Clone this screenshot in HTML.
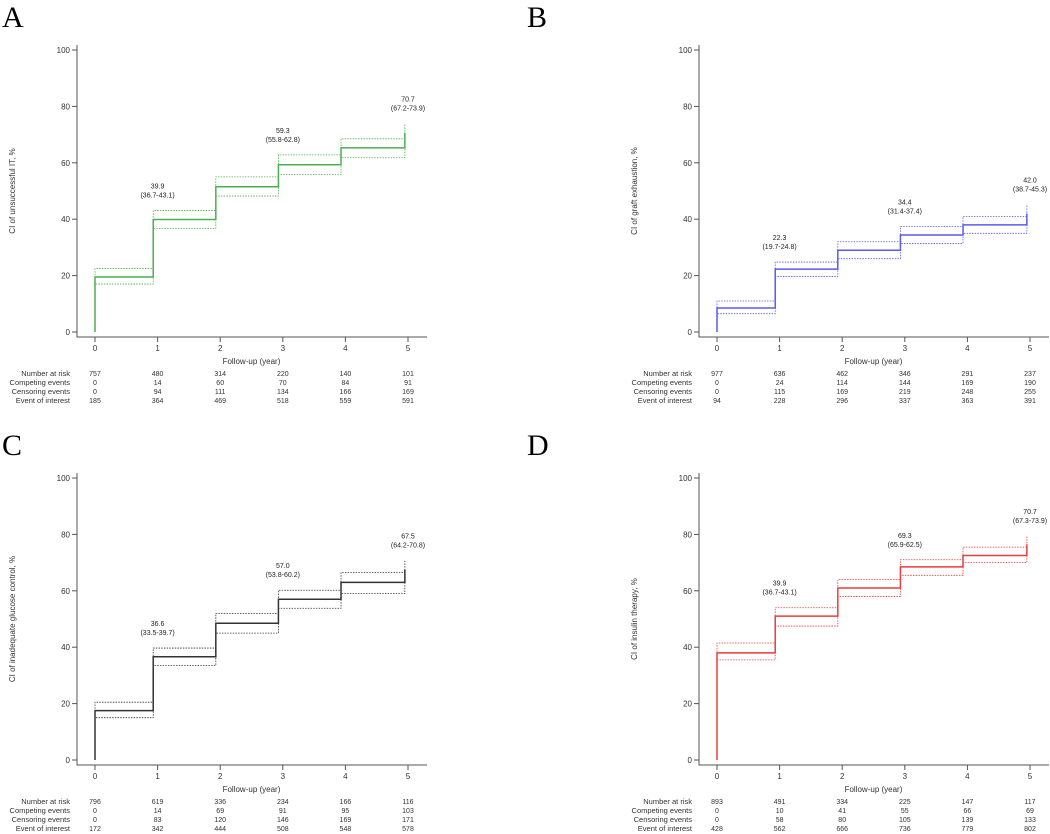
<!DOCTYPE html>
<html><head><meta charset="utf-8"><style>
body{margin:0;background:#fff;}
svg{display:block;font-family:"Liberation Sans",Arial,sans-serif;}
</style></head><body>
<svg id="fig" width="1050" height="834" viewBox="0 0 1050 834" xmlns="http://www.w3.org/2000/svg"></svg>
<script>
const years=[0,1,2,3,4,5];
const stepTimes=[0,0.93,1.93,2.93,3.93,4.95];
const tickY=[0,20,40,60,80,100];
const rowLabels=["Number at risk","Competing events","Censoring events","Event of interest"];

const A_est=[19.5,39.9,51.5,59.3,65.3,70.7];
const A_lo=[17,36.7,48.2,55.8,61.8,67.2];
const A_hi=[22.5,43.1,55,62.8,68.5,73.9];
const A_ann=[[1,"39.9","(36.7-43.1)"],[3,"59.3","(55.8-62.8)"],[5,"70.7","(67.2-73.9)"]];
const A_tab=[[757,480,314,220,140,101],[0,14,60,70,84,91],[0,94,111,134,166,169],[185,364,469,518,559,591]];

const B_est=[8.5,22.3,29,34.4,38,42.0];
const B_lo=[6.5,19.7,26,31.4,35,38.7];
const B_hi=[11,24.8,32,37.4,41,45.3];
const B_ann=[[1,"22.3","(19.7-24.8)"],[3,"34.4","(31.4-37.4)"],[5,"42.0","(38.7-45.3)"]];
const B_tab=[[977,636,462,346,291,237],[0,24,114,144,169,190],[0,115,169,219,248,255],[94,228,296,337,363,391]];

const C_est=[17.5,36.6,48.5,57,63,67.5];
const C_lo=[15,33.5,45,53.8,59,64.2];
const C_hi=[20.5,39.7,52,60.2,66.5,70.8];
const C_ann=[[1,"36.6","(33.5-39.7)"],[3,"57.0","(53.8-60.2)"],[5,"67.5","(64.2-70.8)"]];
const C_tab=[[796,619,336,234,166,116],[0,14,69,91,95,103],[0,83,120,146,169,171],[172,342,444,508,548,578]];

const D_est=[38,51,61,68.5,72.5,76.5];
const D_lo=[35.5,47.5,58,65.5,70,73];
const D_hi=[41.5,54,64,71,75.5,79.5];
const D_ann=[[1,"39.9","(36.7-43.1)"],[3,"69.3","(65.9-62.5)"],[5,"70.7","(67.3-73.9)"]];
const D_tab=[[893,491,334,225,147,117],[0,10,41,55,66,69],[0,58,80,105,139,133],[428,562,666,736,779,802]];

const NS="http://www.w3.org/2000/svg";
const svg=document.getElementById("fig");
function mk(tag,attrs,parent,txt){const e=document.createElementNS(NS,tag);for(const k in attrs)e.setAttribute(k,attrs[k]);if(txt!==undefined)e.textContent=txt;(parent||svg).appendChild(e);return e;}

function panel(letter,lx,dx,dy,color,ytitle,est,lo,hi,ann,tab){
  const g=mk("g",{});
  
  
  const X=t=>dx+95+t*62.6;
  const Y=v=>dy+332-v*2.82;
  const L=mk("text",{x:lx,y:dy+27,"font-family":"Liberation Serif,serif","font-size":30},g,letter);
  
  
  const ax=mk("path",{d:`M${dx+77},${dy+45}V${dy+337}H${dx+427}`,stroke:"#555",fill:"none","stroke-width":1},g);
  
  
  tickY.forEach(v=>{
    mk("line",{x1:dx+72,x2:dx+77,y1:Y(v),y2:Y(v),stroke:"#555"},g);
    const t=mk("text",{x:dx+70,y:Y(v)+3,"text-anchor":"end","font-size":8,fill:"#333"},g,v);
    
    
  });
  years.forEach(v=>{
    mk("line",{x1:X(v),x2:X(v),y1:dy+337,y2:dy+342,stroke:"#555"},g);
    const t=mk("text",{x:X(v),y:dy+351,"text-anchor":"middle","font-size":8,fill:"#333"},g,v);
    
    
  });
  const xt=mk("text",{x:X(2.5),y:dy+364,"text-anchor":"middle","font-size":8,fill:"#333"},g,"Follow-up (year)");
  
  
  const cy=Y(50);
  const yt=mk("text",{x:dx+15,y:cy,"text-anchor":"middle","font-size":8,fill:"#333",transform:`rotate(-90 ${dx+15} ${cy})`},g,ytitle);
  
  
  function stepPath(vals,start){
    let d=`M${X(stepTimes[0])},${Y(start)}`;
    for(let i=0;i<vals.length;i++){
      d+=`V${Y(vals[i])}`;
      if(i<vals.length-1)d+=`H${X(stepTimes[i+1])}`;
    }
    return d;
  }
  const pl=mk("path",{d:stepPath(lo,0),stroke:color,fill:"none","stroke-dasharray":"1.5,1.2","stroke-width":0.8},g);
  
  
  const ph=mk("path",{d:stepPath(hi,0),stroke:color,fill:"none","stroke-dasharray":"1.5,1.2","stroke-width":0.8},g);
  
  
  const pe=mk("path",{d:stepPath(est,0),stroke:color,fill:"none","stroke-width":1.5},g);
  
  
  ann.forEach(a=>{
    const yr=a[0];const hv=hi[yr];
    const t1=mk("text",{x:X(yr),y:Y(hv)-22,"text-anchor":"middle","font-size":7,fill:"#222"},g,a[1]);
    
    
    const t2=mk("text",{x:X(yr),y:Y(hv)-13,"text-anchor":"middle","font-size":7,fill:"#222"},g,a[2]);
    
    
  });
  rowLabels.forEach((lab,r)=>{
    const ry=dy+376+r*9;
    const t=mk("text",{x:dx+70,y:ry,"text-anchor":"end","font-size":7.5,fill:"#333"},g,lab);
    
    
    tab[r].forEach((v,i)=>{
      const c=mk("text",{x:X(years[i]),y:ry,"text-anchor":"middle","font-size":7,fill:"#333"},g,v);
      
      
    });
  });
}
panel("A",2,0,0,"#4caf50","CI of unsuccessful IT, %",A_est,A_lo,A_hi,A_ann,A_tab);
panel("B",527,622,0,"#5a5af0","CI of graft exhaustion, %",B_est,B_lo,B_hi,B_ann,B_tab);
panel("C",2,0,428,"#333333","CI of inadequate glucose control, %",C_est,C_lo,C_hi,C_ann,C_tab);
panel("D",527,622,428,"#ee3b3b","CI of insulin therapy, %",D_est,D_lo,D_hi,D_ann,D_tab);
</script>
</body></html>
